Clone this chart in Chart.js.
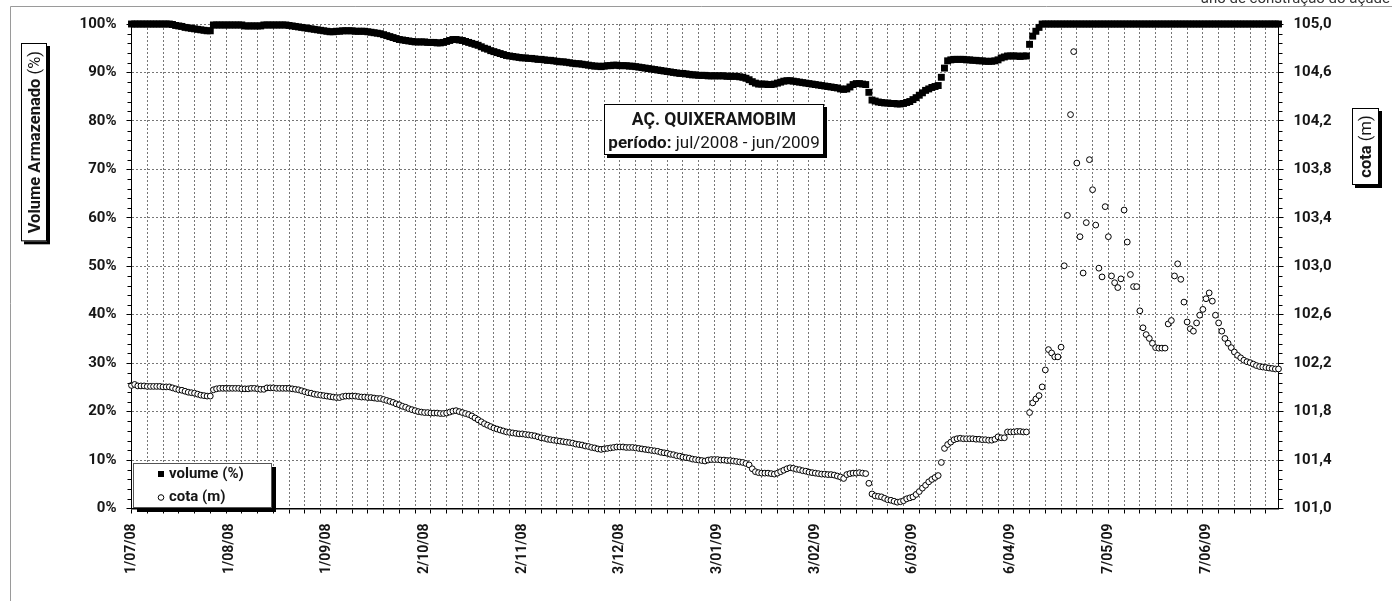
<!DOCTYPE html>
<html><head><meta charset="utf-8">
<script src="https://cdn.jsdelivr.net/npm/chart.js@4.4.0/dist/chart.umd.min.js"></script>
<style>html,body{margin:0;padding:0;background:#fff;overflow:hidden}canvas{display:block}</style>
</head><body>
<canvas id="c" width="1392" height="601"></canvas>
<script>
// ---- DATA (one value per day, day 0 = 1/07/2008) ----
const tickDays = [0, 31, 62, 93, 124, 155, 186, 217, 248, 279, 310, 341];
const tickLabels = ['1/07/08','1/08/08','1/09/08','2/10/08','2/11/08','3/12/08','3/01/09','3/02/09','6/03/09','6/04/09','7/05/09','7/06/09'];
const leftTickLabels = ['0%','10%','20%','30%','40%','50%','60%','70%','80%','90%','100%'];
const rightTickLabels = ['101,0','101,4','101,8','102,2','102,6','103,0','103,4','103,8','104,2','104,6','105,0'];

const volume = [
  100,100,100,100,100,100,100,100,100,100,100,100,100,
  99.9,99.7,99.6,99.5,99.3,99.2,99.1,99.0,98.9,98.8,98.7,98.6,98.6,
  99.8,99.8,99.8,99.8,99.8,99.8,99.8,99.8,99.8,99.8,
  99.6,99.6,99.6,99.6,99.6,99.6,
  99.8,99.8,99.8,99.8,99.8,99.8,99.8,99.8,
  99.7,99.6,99.5,99.4,99.3,99.2,99.1,99.0,98.9,98.8,98.7,98.6,98.5,98.4,98.4,
  98.5,98.5,98.6,98.6,98.6,98.6,98.5,98.5,98.5,98.5,98.4,
  98.3,98.2,98.1,98.0,
  97.8,97.6,97.4,97.2,97.0,96.8,96.7,96.6,96.5,96.4,96.3,96.3,
  96.3,96.3,96.2,96.2,96.2,96.1,96.1,96.2,96.4,96.6,
  96.8,96.8,96.7,96.6,96.4,96.2,96.0,95.8,95.6,
  95.3,95.0,94.8,94.5,94.3,94.1,93.9,93.7,93.5,93.4,93.3,
  93.2,93.1,93.0,93.0,92.9,92.9,92.8,92.7,92.7,92.6,
  92.5,92.5,92.4,92.3,92.2,92.2,92.1,92.0,91.9,91.8,91.8,91.7,91.6,91.5,91.4,91.3,91.3,91.2,
  91.3,91.4,91.4,91.5,91.5,91.4,91.4,91.4,91.3,91.3,91.2,
  91.1,91.0,90.9,90.8,90.7,90.6,90.5,90.4,90.3,90.2,90.1,90.0,89.9,89.8,89.8,89.7,
  89.6,89.5,89.5,89.4,89.4,89.4,89.3,89.3,89.3,89.3,89.3,89.3,89.2,89.2,89.2,89.2,89.1,89.0,88.8,88.5,
  88.1,87.8,
  87.6,87.6,87.6,87.5,87.5,87.6,87.8,88.0,88.2,
  88.3,88.3,
  88.2,88.1,88.0,87.9,87.8,87.7,87.6,87.5,87.4,87.3,87.2,87.1,87.0,86.9,86.8,
  86.6,86.5,86.6,87.0,
  87.5,87.7,87.7,87.6,87.5,
  85.9,
  84.3,84.1,83.9,83.8,83.7,83.7,83.6,83.6,
  83.5,83.5,83.6,83.8,84.0,
  84.4,84.8,85.3,85.8,86.3,86.6,86.9,87.1,87.3,
  89.0,90.9,
  92.4,92.6,92.7,92.7,92.7,92.7,92.6,92.6,92.5,92.5,92.4,92.4,
  92.3,92.3,92.3,92.4,92.6,
  93.0,93.2,
  93.4,93.4,93.4,93.4,93.3,93.4,93.4,
  95.8,97.5,98.5,99.3,100,
  100,100,100,100,100,100,100,100,100,100,100,100,100,100,100,
  100,100,100,100,100,100,100,100,100,100,100,100,100,100,100,
  100,100,100,100,100,100,100,100,100,100,100,100,100,100,100,
  100,100,100,100,100,100,100,100,100,100,100,100,100,100,100,
  100,100,100,100,100,100,100,100,100,100,100,100,100,100,100
];

const cota = [
  102.016,102.024,102.012,102.012,102.012,102.008,102.008,102.008,102.008,102.008,102.004,102.004,102.004,
  101.996,101.988,101.980,101.976,101.968,101.960,101.956,101.952,101.944,101.936,101.932,101.928,101.928,
  101.980,101.988,101.992,101.992,101.992,101.992,101.992,101.992,101.992,101.988,101.988,101.988,101.992,101.992,101.988,
  101.984,101.984,101.996,101.996,101.996,101.992,101.992,101.992,101.992,101.992,101.988,101.984,
  101.980,101.972,101.964,101.956,101.952,101.944,101.940,101.936,101.932,101.928,101.924,101.920,
  101.916,101.916,101.924,101.928,101.928,101.928,101.928,101.924,101.920,101.920,101.916,101.916,101.912,101.908,101.908,101.900,
  101.892,101.884,101.876,101.864,101.856,101.844,101.836,101.824,101.816,101.808,101.800,101.796,
  101.792,101.792,101.788,101.788,101.788,101.784,101.784,101.788,101.796,
  101.804,101.808,101.800,
  101.792,101.784,101.776,101.764,101.748,101.732,101.716,101.700,101.688,101.676,101.664,101.656,101.648,
  101.640,101.632,101.628,101.624,101.620,101.616,101.616,101.612,101.608,101.604,101.600,101.592,101.584,101.580,101.572,101.568,
  101.564,101.560,101.556,101.552,101.548,101.544,101.540,101.532,101.528,101.524,101.516,101.512,101.504,101.500,101.492,101.488,
  101.492,101.496,101.500,101.504,101.508,101.508,101.508,101.504,101.504,
  101.504,101.500,101.496,101.492,101.488,101.484,101.480,101.476,101.472,101.464,101.460,101.456,101.448,101.444,101.436,101.432,101.424,101.420,101.416,101.408,101.404,101.400,101.396,101.392,
  101.400,101.404,101.404,101.404,101.400,101.400,101.396,101.396,101.392,101.388,101.384,101.380,101.372,101.360,
  101.328,101.304,
  101.296,101.292,101.292,101.292,101.288,101.284,
  101.292,101.304,101.316,101.328,101.336,101.332,
  101.324,101.320,101.312,101.308,101.300,101.296,101.292,101.288,101.284,101.284,101.280,101.280,101.276,101.268,101.260,
  101.248,
  101.280,101.288,101.292,101.292,101.296,101.292,101.288,
  101.208,
  101.120,101.104,101.100,101.096,101.084,101.072,101.068,101.060,
  101.052,101.056,101.064,101.080,101.088,101.096,101.116,
  101.140,101.168,101.192,101.220,101.240,101.256,101.272,
  101.380,101.496,
  101.528,101.548,101.568,101.576,101.580,
  101.576,101.576,101.576,101.576,101.572,101.572,101.568,101.568,101.564,101.564,101.572,101.592,
  101.584,101.584,
  101.632,101.632,101.632,101.636,101.636,101.632,101.632,
  101.792,101.872,101.904,101.932,102.004,102.144,102.312,102.284,102.252,102.252,102.332,
  103.004,103.420,104.252,104.772,103.852,103.244,102.944,103.360,103.880,103.632,
  103.340,102.984,102.912,103.492,103.244,102.920,102.864,102.824,102.896,103.464,
  103.200,102.932,102.832,102.832,102.632,102.492,102.436,102.404,102.364,102.328,
  102.324,102.324,102.324,102.524,102.552,102.920,103.020,102.892,102.704,102.540,
  102.484,102.464,102.532,102.596,102.644,102.732,102.780,102.712,102.596,102.532,
  102.464,102.404,102.364,102.328,
  102.292,102.264,102.244,102.224,102.212,102.204,102.192,102.180,102.172,102.168,102.164,102.160,102.156,102.152,102.152
];

if (volume.length !== 365 || cota.length !== 365) {
  throw new Error('length mismatch volume=' + volume.length + ' cota=' + cota.length);
}

// ---- RENDERING ----
const FONT = 'Roboto, "Open Sans", sans-serif';
const TXT = '#161616';
const GRID = '#767676';

function shadowBox(ctx, x, y, w, h, off, border) {
  ctx.save();
  ctx.fillStyle = '#000';
  ctx.fillRect(x + off, y + off, w, h);
  ctx.fillStyle = '#fff';
  ctx.fillRect(x, y, w, h);
  ctx.strokeStyle = border || '#000';
  ctx.lineWidth = 1;
  ctx.strokeRect(x + 0.5, y + 0.5, w - 1, h - 1);
  ctx.restore();
}

function mixedText(ctx, parts, x, y, align) {
  let total = 0;
  parts.forEach(p => { ctx.font = p[1]; total += ctx.measureText(p[0]).width; });
  let cx = align === 'center' ? x - total / 2 : x;
  ctx.textAlign = 'left';
  parts.forEach(p => { ctx.font = p[1]; ctx.fillText(p[0], cx, y); cx += ctx.measureText(p[0]).width; });
  return total;
}

const decor = {
  id: 'decor',
  beforeDraw(chart) {
    const ctx = chart.ctx;
    ctx.save();
    ctx.fillStyle = '#fff';
    ctx.fillRect(0, 0, chart.width, chart.height);
    ctx.strokeStyle = '#9a9a9a';
    ctx.lineWidth = 1;
    ctx.beginPath();
    ctx.moveTo(10.5, 601); ctx.lineTo(10.5, 6.5); ctx.lineTo(1392, 6.5);
    ctx.stroke();
    ctx.fillStyle = '#333';
    ctx.font = '15px ' + FONT;
    ctx.textAlign = 'right';
    ctx.textBaseline = 'alphabetic';
    ctx.fillText('ano de construção do açude', 1390, 3);
    ctx.restore();
  },
  afterDraw(chart) {
    const ctx = chart.ctx;
    const yL = chart.scales.yL;
    const a = chart.chartArea;
    ctx.save();
    ctx.strokeStyle = '#000';
    ctx.lineWidth = 1;
    ctx.beginPath();
    for (let k = 0; k <= 50; k++) {
      if (k % 5 === 0) continue;
      const y = Math.round(yL.getPixelForValue(k * 2)) + 0.5;
      ctx.moveTo(a.left - 4, y); ctx.lineTo(a.left, y);
      ctx.moveTo(a.right, y); ctx.lineTo(a.right + 4, y);
    }
    ctx.stroke();

    ctx.fillStyle = TXT;
    ctx.textBaseline = 'middle';

    {
      ctx.font = 'bold 16.5px ' + FONT;
      const w1 = ctx.measureText('Volume Armazenado').width;
      ctx.font = '16.5px ' + FONT;
      const w2 = ctx.measureText(' (%)').width;
      const h = w1 + w2 + 16;
      const top = 43;
      shadowBox(ctx, 21, top, 26, h, 3);
      ctx.save();
      ctx.translate(34.5, top + h / 2);
      ctx.rotate(-Math.PI / 2);
      ctx.fillStyle = TXT;
      ctx.textBaseline = 'middle';
      mixedText(ctx, [['Volume Armazenado', 'bold 16.5px ' + FONT], [' (%)', '16.5px ' + FONT]], 0, 1, 'center');
      ctx.restore();
    }
    {
      shadowBox(ctx, 1352, 108, 27, 77, 3);
      ctx.save();
      ctx.translate(1366, 146.5);
      ctx.rotate(-Math.PI / 2);
      ctx.fillStyle = TXT;
      ctx.textBaseline = 'middle';
      mixedText(ctx, [['cota', 'bold 16.5px ' + FONT], [' (m)', '16.5px ' + FONT]], 0, 1, 'center');
      ctx.restore();
    }
    {
      shadowBox(ctx, 604, 104, 220, 51, 3);
      ctx.fillStyle = TXT;
      ctx.textBaseline = 'alphabetic';
      ctx.font = 'bold 17.5px ' + FONT;
      ctx.textAlign = 'center';
      ctx.fillText('AÇ. QUIXERAMOBIM', 714, 125);
      mixedText(ctx, [['período:', 'bold 17px ' + FONT], [' jul/2008 - jun/2009', '17px ' + FONT]], 714, 148, 'center');
    }
    {
      shadowBox(ctx, 133, 463, 139, 45, 4, '#555');
      const d0 = chart.data.datasets[0], d1 = chart.data.datasets[1];
      ctx.fillStyle = d0.backgroundColor;
      ctx.fillRect(158, 471, 6, 6);
      ctx.beginPath();
      ctx.arc(161, 497.5, 2.8, 0, Math.PI * 2);
      ctx.fillStyle = d1.backgroundColor; ctx.fill();
      ctx.strokeStyle = d1.borderColor; ctx.lineWidth = 1; ctx.stroke();
      ctx.fillStyle = TXT;
      ctx.textBaseline = 'middle';
      ctx.textAlign = 'left';
      ctx.font = 'bold 15px ' + FONT;
      ctx.fillText(d0.label, 169, 474.5);
      ctx.fillText(d1.label, 169, 497.5);
    }
    ctx.restore();
  }
};

const isGridDay = v => Math.abs(v % 5) < 1e-9;

new Chart(document.getElementById('c'), {
  type: 'scatter',
  data: {
    datasets: [
      {
        label: 'volume (%)',
        data: volume.map((v, i) => ({ x: i, y: v })),
        yAxisID: 'yL',
        pointStyle: 'rect',
        radius: 4.9,
        backgroundColor: '#000',
        borderColor: '#000',
        borderWidth: 0,
        clip: false
      },
      {
        label: 'cota (m)',
        data: cota.map((v, i) => ({ x: i, y: v })),
        yAxisID: 'yR',
        pointStyle: 'circle',
        radius: 2.9,
        backgroundColor: '#fff',
        borderColor: '#000',
        borderWidth: 1,
        clip: false
      }
    ]
  },
  options: {
    responsive: false,
    animation: false,
    devicePixelRatio: 1,
    layout: { padding: { top: 24, left: 0, right: 0, bottom: 0 } },
    plugins: { legend: { display: false }, tooltip: { enabled: false }, title: { display: false } },
    scales: {
      x: {
        type: 'linear',
        position: 'bottom',
        min: 0,
        max: 364,
        afterBuildTicks: (scale) => {
          const vals = new Set();
          for (let d = 0; d <= 364; d += 5) vals.add(d);
          tickDays.forEach(d => vals.add(d));
          scale.ticks = Array.from(vals).sort((p, q) => p - q).map(v => ({ value: v }));
        },
        afterFit: (s) => { s.height = 92.5; },
        grid: {
          color: (c) => (c.tick && isGridDay(c.tick.value)) ? GRID : 'rgba(0,0,0,0)',
          tickColor: (c) => (c.tick && isGridDay(c.tick.value)) ? '#000' : 'rgba(0,0,0,0)',
          lineWidth: 1,
          tickLength: 5,
          tickWidth: 1
        },
        border: { display: true, color: '#000', width: 1.5, dash: [2, 2] },
        ticks: {
          autoSkip: false,
          minRotation: 90,
          maxRotation: 90,
          padding: 10,
          color: TXT,
          font: { family: FONT, size: 14, weight: 'bold' },
          callback: (value) => {
            const i = tickDays.indexOf(value);
            return i >= 0 ? tickLabels[i] : '';
          }
        }
      },
      yL: {
        type: 'linear',
        position: 'left',
        min: 0,
        max: 100,
        afterFit: (s) => { s.width = 131.5; },
        grid: { color: GRID, lineWidth: 1, tickLength: 5, tickColor: '#000' },
        border: { display: true, color: '#000', width: 1, dash: [2, 2] },
        ticks: {
          stepSize: 10,
          padding: 10,
          color: TXT,
          font: { family: FONT, size: 15, weight: 'bold' },
          callback: (value, index) => leftTickLabels[index]
        }
      },
      yR: {
        type: 'linear',
        position: 'right',
        min: 101,
        max: 105,
        afterFit: (s) => { s.width = 113.5; },
        grid: { drawOnChartArea: false, tickLength: 5, tickColor: '#000' },
        border: { display: true, color: '#000', width: 1 },
        ticks: {
          stepSize: 0.4,
          padding: 10,
          color: TXT,
          font: { family: FONT, size: 15, weight: 'bold' },
          callback: (value, index) => rightTickLabels[index]
        }
      }
    }
  },
  plugins: [decor]
});
</script>
</body></html>
